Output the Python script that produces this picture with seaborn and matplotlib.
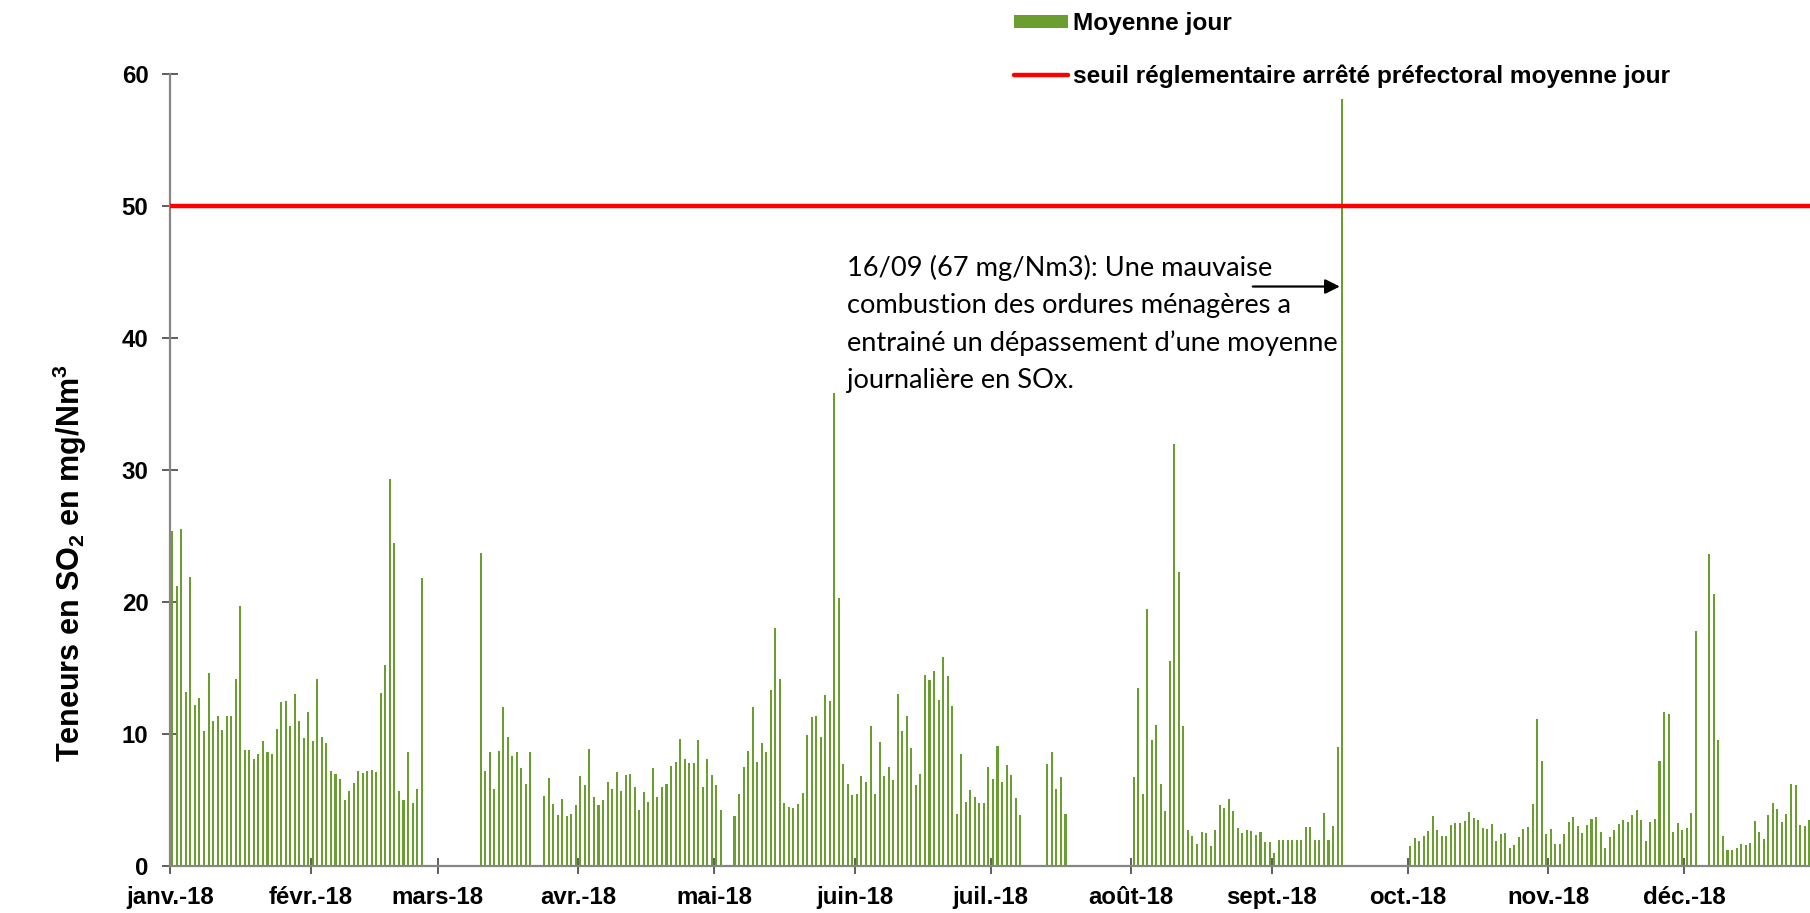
import numpy as np
import pandas as pd
import seaborn as sns
import matplotlib.pyplot as plt
import matplotlib.dates as mdates
from matplotlib.patches import Patch
from matplotlib.lines import Line2D

nan = np.nan
jan = [25.4, 21.2, 25.5, 13.2, 21.9, 12.2, 12.7, 10.2, 14.6, 11.0,
       11.4, 10.3, 11.4, 11.35, 14.2, 19.7, 8.8, 8.8, 8.1, 8.5,
       9.5, 8.65, 8.5, 10.4, 12.4, 12.5, 10.6, 13.0, 11.0, 9.7, 11.7]
feb = [9.5, 14.2, 9.8, 9.3, 7.2, 7.0, 6.6, 5.0, 5.7, 6.3,
       7.2, 7.06, 7.2, 7.3, 7.1, 13.1, 15.2, 29.3, 24.5, 5.7,
       5.0, 8.65, 4.8, 5.8, 21.8, nan, nan, nan]
mar = [nan, nan, nan, nan, nan, nan, nan, nan, nan, 23.7,
       7.2, 8.65, 5.8, 8.7, 12.05, 9.8, 8.3, 8.6, 7.4, 6.25,
       8.65, nan, nan, 5.3, 6.66, 4.67, 3.86, 5.07, 3.8, 3.93, 4.6]
apr = [6.8, 6.1, 8.9, 5.2, 4.6, 4.97, 6.36, 5.8, 7.1, 5.7,
       6.9, 6.94, 6.0, 4.26, 5.6, 4.84, 7.44, 5.2, 5.95, 6.23,
       7.57, 7.87, 9.6, 8.1, 7.8, 7.77, 9.58, 6.0, 8.1, 6.9]
may = [6.13, 4.24, nan, nan, 3.8, 5.45, 7.5, 8.75, 12.05, 7.9,
       9.3, 8.6, 13.3, 18.0, 14.2, 4.8, 4.5, 4.4, 4.67, 5.5,
       9.94, 11.3, 11.4, 9.8, 12.95, 12.5, 35.8, 20.3, 7.74, 6.25, 5.4]
jun = [5.45, 6.83, 6.36, 10.6, 5.45, 9.4, 6.8, 7.47, 6.5, 13.06,
       10.2, 11.4, 8.93, 6.13, 7.0, 14.5, 14.07, 14.75, 12.6, 15.8,
       14.4, 12.1, 3.93, 8.5, 4.87, 5.75, 5.2, 4.74, 4.74, 7.47]
jul = [6.56, 9.08, 6.4, 7.64, 6.9, 5.15, 3.9, nan, nan, nan,
       nan, nan, 7.7, 8.65, 5.83, 6.76, 3.93, nan, nan, nan,
       nan, nan, nan, nan, nan, nan, nan, nan, nan, nan, nan]
aug = [6.76, 13.5, 5.42, 19.5, 9.58, 10.7, 6.2, 4.14, 15.5, 32.0,
       22.3, 10.57, 2.7, 2.3, 1.7, 2.57, 2.5, 1.5, 2.7, 4.6,
       4.36, 5.1, 4.14, 2.88, 2.5, 2.7, 2.65, 2.35, 2.57, 1.8, 1.84]
sep = [0.98, 2.0, 2.0, 2.0, 2.0, 2.0, 2.0, 2.98, 2.98, 2.0,
       2.0, 4.0, 2.0, 3.0, 9.0, 58.1, nan, nan, nan, nan,
       nan, nan, nan, nan, nan, nan, nan, nan, nan, nan]
oct_ = [1.5, 2.1, 1.9, 2.3, 2.67, 3.76, 2.72, 2.3, 2.3, 3.08,
        3.23, 3.28, 3.4, 4.06, 3.6, 3.46, 2.86, 2.8, 3.18, 1.92,
        2.4, 2.5, 1.34, 1.6, 2.17, 2.8, 2.93, 4.67, 11.15, 7.97, 2.4]
nov = [2.77, 1.7, 1.7, 2.45, 3.3, 3.73, 3.03, 2.47, 3.13, 3.53,
       3.7, 2.6, 1.4, 2.2, 2.72, 3.15, 3.46, 3.3, 3.86, 4.24,
       3.46, 1.9, 3.36, 3.53, 7.97, 11.65, 11.55, 2.57, 3.28, 2.72]
dec = [2.85, 4.0, 17.8, nan, nan, 23.6, 20.6, 9.53, 2.3, 1.2,
       1.2, 1.36, 1.7, 1.56, 1.77, 3.4, 2.55, 2.07, 3.83, 4.8,
       4.29, 3.33, 3.96, 6.2, 6.15, 3.08, 3.03, 3.48]

month_labels = ['janv.-18', 'févr.-18', 'mars-18', 'avr.-18', 'mai-18', 'juin-18',
                'juil.-18', 'août-18', 'sept.-18', 'oct.-18', 'nov.-18', 'déc.-18']
seuil = 50
note = ("16/09 (67 mg/Nm3): Une mauvaise\n"
        "combustion des ordures ménagères a\n"
        "entrainé un dépassement d\u2019une moyenne\n"
        "journalière en SOx.")

vals = jan + feb + mar + apr + may + jun + jul + aug + sep + oct_ + nov + dec
jours = pd.date_range('2018-01-01', periods=len(vals), freq='D') + pd.Timedelta(hours=12)
df = pd.DataFrame({'jour': mdates.date2num(jours), 'SO2': vals}).dropna()

green = '#6A9F2F'
red = '#FF0000'

sns.set_theme(style='white')
plt.rcParams['font.family'] = ['Liberation Sans', 'DejaVu Sans']
plt.rcParams['font.weight'] = 'bold'
plt.rcParams['mathtext.fontset'] = 'custom'
plt.rcParams['mathtext.rm'] = 'Liberation Sans:bold'
plt.rcParams['mathtext.default'] = 'rm'
for k in ['text.color', 'xtick.color', 'ytick.color', 'axes.labelcolor']:
    plt.rcParams[k] = 'black'

fig = plt.figure(figsize=(18.10, 9.13), dpi=100)
ax = fig.add_axes([170/1810, 47/913, 1655/1810, 792/913])

sns.barplot(data=df, x='jour', y='SO2', native_scale=True, width=0.45,
            color=green, saturation=1, errorbar=None, linewidth=0, ax=ax)
ax.axhline(seuil, color=red, lw=3.2, zorder=3)

t0 = mdates.date2num(pd.Timestamp('2018-01-01'))
ticks = mdates.date2num(pd.date_range('2018-01-01', periods=12, freq='MS'))
ax.set_xlim(t0, mdates.date2num(pd.Timestamp('2019-01-01')))
ax.set_xticks(ticks)
ax.set_xticklabels(month_labels)
ax.set_ylim(0, 60)
ax.set_yticks(range(0, 61, 10))
ax.set_xlabel('')
ax.set_ylabel('')

sns.despine(ax=ax)
for s in ['left', 'bottom']:
    ax.spines[s].set_color('#868686')
    ax.spines[s].set_linewidth(1.6)
ax.tick_params(axis='both', bottom=True, left=True, direction='inout',
               length=11, width=1.1, color='#333333', labelsize=17.3)
ax.tick_params(axis='x', pad=9)
ax.tick_params(axis='y', pad=10)

fig.text(70/1810, 1 - 563/913, 'Teneurs en SO$_2$ en mg/Nm$^3$', rotation=90,
         ha='center', va='center', fontsize=22, fontweight='bold')

ax.text(t0 + 149.2, 46.3, note, ha='left', va='top', fontsize=19.6,
        fontfamily='Lato', fontweight='normal', linespacing=1.6)
ax.annotate('', xy=(t0 + 258.0, 43.9), xytext=(t0 + 238.8, 43.9),
            arrowprops=dict(arrowstyle='-|>', color='black', lw=1.6,
                            mutation_scale=22, shrinkA=0, shrinkB=0))

handles = [Patch(facecolor=green, edgecolor='none'),
           Line2D([], [], color=red, lw=3.2)]
fig.legend(handles, ['Moyenne jour', 'seuil réglementaire arrêté préfectoral moyenne jour'],
           loc='upper left', bbox_to_anchor=(1014/1810, 1 - 12/913), frameon=False,
           fontsize=17.6, handlelength=2.2, handleheight=0.41, handletextpad=0.2,
           labelspacing=1.2, borderpad=0, borderaxespad=0)

fig.savefig('out.png', dpi=100)
